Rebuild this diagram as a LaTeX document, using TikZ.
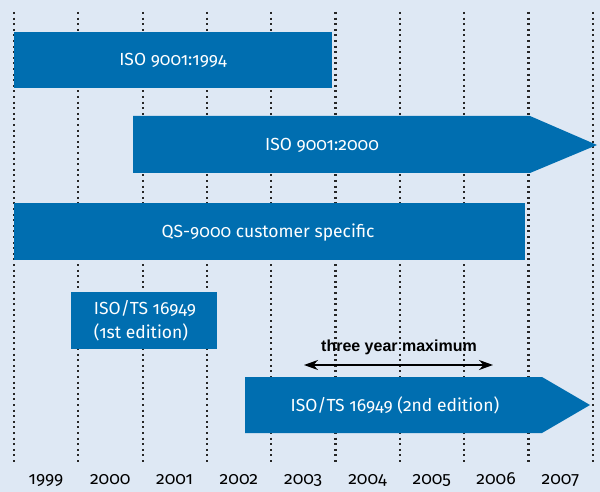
\documentclass[tikz,border=0pt]{standalone}
\usepackage{fontspec}
\setmainfont{Fira Sans}[Numbers=OldStyle]
\newfontfamily\labfont{Liberation Sans}
\usetikzlibrary{arrows.meta}
\definecolor{bgblue}{RGB}{222,232,244}
\definecolor{barblue}{RGB}{0,110,176}
\begin{document}
\begin{tikzpicture}[x=1pt,y=-1pt,
  gridline/.style={line width=2.2pt, dash pattern=on 2pt off 3.6pt, black!85},
  barfill/.style={fill=barblue},
  bartext/.style={text=white, font=\fontsize{17.5}{24}\selectfont, inner sep=0pt},
  yearlab/.style={font=\fontsize{17.5}{20}\selectfont, inner sep=0pt, anchor=base},
  twoway/.style={line width=1.8pt, {Stealth[length=14pt,width=10pt]}-{Stealth[length=14pt,width=10pt]}}
]
\fill[bgblue] (0,0) rectangle (600,492);
\useasboundingbox (0,0) rectangle (600,492);
\foreach \i in {0,...,9} \draw[gridline] ({14+64.3*\i},12) -- ({14+64.3*\i},462);

\fill[barfill] (14,32) rectangle (332,88);
\node[bartext, anchor=base] (b1) at (173,66) {ISO 9001:1994};

\fill[barfill] (133,116) -- (530,116) -- (597,145) -- (530,173) -- (133,173) -- cycle;
\node[bartext, anchor=base] (b2) at (322,151) {ISO 9001:2000};

\fill[barfill] (14,203) rectangle (525,260);
\node[bartext, anchor=base] (b3) at (268,237) {QS-9000 customer specific};

\fill[barfill] (71,292) rectangle (217,349);
\node[bartext, align=left] (b4) at (145,321) {ISO/TS 16949\\(1st edition)};

\fill[barfill] (245,377) -- (542,377) -- (590,405) -- (542,433) -- (245,433) -- cycle;
\node[bartext, anchor=base] (b5) at (395,411) {ISO/TS 16949 (2nd edition)};

\coordinate (al) at (304,365);
\coordinate (ar) at (493,365);
\draw[twoway] (al) -- (ar);
\node[font=\labfont\bfseries\fontsize{16}{19}\selectfont, inner sep=0pt, anchor=base] (lab) at (399,351) {three year maximum};

\foreach \y [count=\i from 0] in {1999,2000,2001,2002,2003,2004,2005,2006,2007}
  \node[yearlab] (y\y) at ({46+64.3*\i},484) {\y};
\end{tikzpicture}
\end{document}
